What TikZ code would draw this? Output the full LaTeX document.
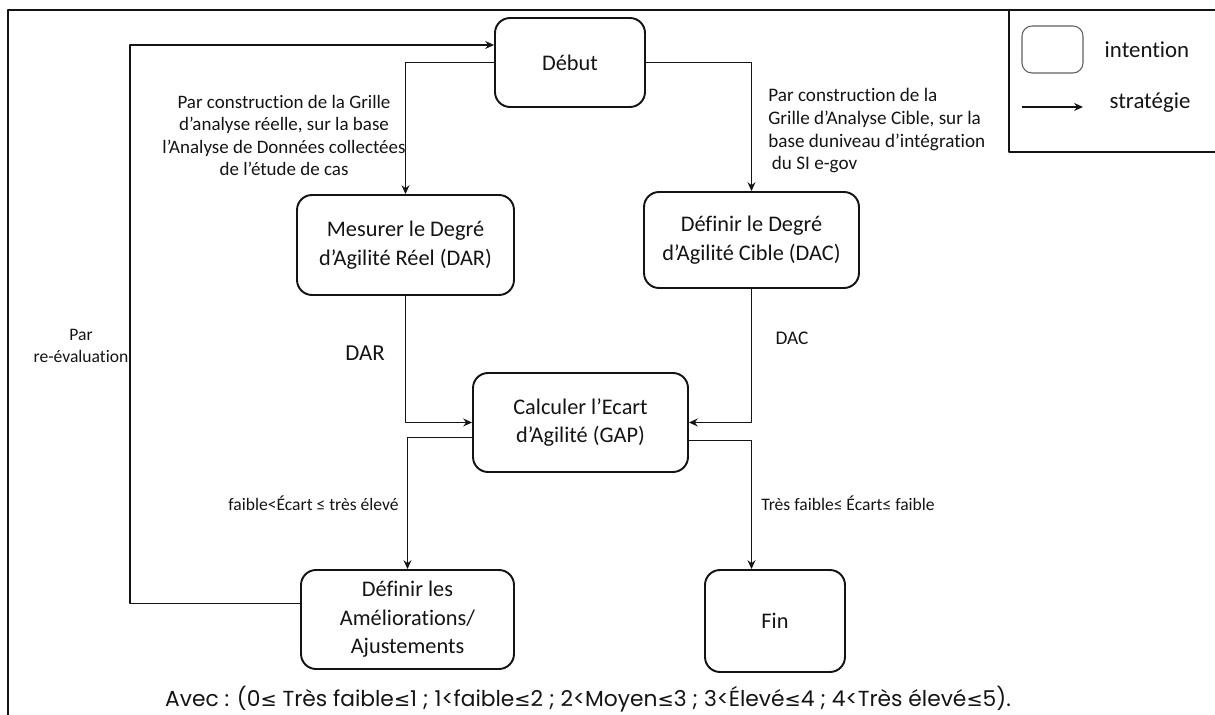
\documentclass[tikz,border=0pt]{standalone}
\usepackage{fontspec}
\setmainfont{Carlito}[Ligatures={NoCommon}]
\newfontfamily\avecfont{Poppins}
\newfontfamily\symfont{DejaVu Sans}
\usepackage{xcolor}
\usetikzlibrary{calc, arrows.meta}
\definecolor{inkColor}{RGB}{20, 20, 20}
\definecolor{legendColor}{RGB}{95, 95, 95}

% thin "less or equal" for the scale line
\newcommand{\avecleq}{{\symfont\fontsize{11}{13}\selectfont ≤}}

\begin{document}
\begin{tikzpicture}[x=0.02cm, y=-0.02cm, line join=round, >={Stealth[length=5pt, width=4.5pt]},
		intention/.style={draw=inkColor, line width=1.1pt, rounded corners=0.3cm, align=center, inner sep=2pt, text=inkColor, font=\fontsize{12.7}{16.2}\selectfont},
		strategie/.style={->, line width=0.9pt, draw=inkColor},
		note/.style={text=inkColor, inner sep=0pt, font=\fontsize{10}{12.3}\selectfont}]
	\useasboundingbox (0, 0) rectangle (1215, 715);
	
	% Frame of the figure
	\draw[line width=0.9pt, inkColor] (8, 715) -- (8, 10) -- (1215, 10);
	
	% Intentions
	\node[intention, minimum width=3cm, minimum height=1.78cm] (debut) at (570, 62.5) {Début};
	\node[intention, minimum width=4.34cm, minimum height=2cm] (dar) at (405.5, 245) {Mesurer le Degré\\d’Agilité Réel (DAR)};
	\node[intention, minimum width=4.3cm, minimum height=1.92cm] (dac) at (751.5, 240) {Définir le Degré\\d’Agilité Cible (DAC)};
	\node[intention, minimum width=4.3cm, minimum height=1.98cm] (gap) at (580.5, 422.5) {Calculer l’Ecart\\d’Agilité (GAP)};
	\node[intention, minimum width=4.26cm, minimum height=1.98cm] (amelio) at (407.5, 619.5) {Définir les\\Améliorations/\\Ajustements};
	\node[intention, minimum width=2.8cm, minimum height=2.04cm] (fin) at (775, 621) {Fin};
	
	% Strategies between intentions
	\draw[strategie] (debut.west) -| (dar.north);
	\draw[strategie] (debut.east) -| (dac.north);
	\draw[strategie] (dar.south) |- (gap.west);
	\draw[strategie] (dac.south) |- (gap.east);
	\draw[strategie] ($(gap.west)+(0, 15)$) -| (amelio.north);
	\draw[strategie] ($(gap.east)+(0, 18)$) -| (fin.north -| dac.south);
	
	% Loop back to the start
	\coordinate (back) at (130, 45);
	\draw[strategie] ($(amelio.west)+(0, -16)$) -| (back) -- (back -| debut.west);
	
	% Labels of the strategies
	\node[note, align=center, font=\fontsize{10.8}{12.6}\selectfont] (lblreel) at (284, 135.5) {Par construction de la Grille\\d’analyse réelle, sur la base\\l’Analyse de Données collectées\\de l’étude de cas};
	\node[note, align=left, anchor=west, font=\fontsize{10.9}{12.9}\selectfont] (lblcible) at (768, 131) {Par construction de la\\Grille d’Analyse Cible, sur la\\base duniveau d’intégration\\\hspace{2pt}du SI e-gov};
	\node[note, font=\fontsize{13}{15}\selectfont] (lbldar) at (365, 353) {DAR};
	\node[note, font=\fontsize{11}{13}\selectfont] (lbldac) at (792, 338) {DAC};
	\node[note, align=center] (lblback) at (81, 346) {Par\\re-évaluation};
	\node[note, anchor=east] (lblhaut) at (399, 503) {faible<Écart ≤ très élevé};
	\node[note, anchor=west] (lblbas) at (761, 503) {Très faible≤ Écart≤ faible};
	
	% Scale of the gap
	\node[text=inkColor, inner sep=0pt, font=\avecfont\fontsize{12.4}{14}\selectfont] (avec) at (588, 699) {Avec : (0\avecleq{} Très faible\avecleq1 ; 1<faible\avecleq2 ; 2<Moyen\avecleq3 ; 3<Élevé\avecleq4 ; 4<Très élevé\avecleq5).};
	
	% Legend
	\draw[line width=0.8pt, inkColor] (1009, 10) |- (1215, 152);
	\node[draw=legendColor, line width=0.6pt, rounded corners=0.2cm, minimum width=1.22cm, minimum height=0.94cm] (legintention) at (1052.5, 49.5) {};
	\node[text=inkColor, inner sep=0pt, font=\fontsize{13}{15}\selectfont] (legtxtint) at (1147, 50) {intention};
	\coordinate (legA) at (1022, 107);
	\coordinate (legB) at (1083, 107);
	\draw[strategie, line width=0.8pt] (legA) -- (legB);
	\node[text=inkColor, inner sep=0pt, font=\fontsize{13}{15}\selectfont] (legtxtstrat) at (1150, 103) {stratégie};
\end{tikzpicture}
\end{document}
